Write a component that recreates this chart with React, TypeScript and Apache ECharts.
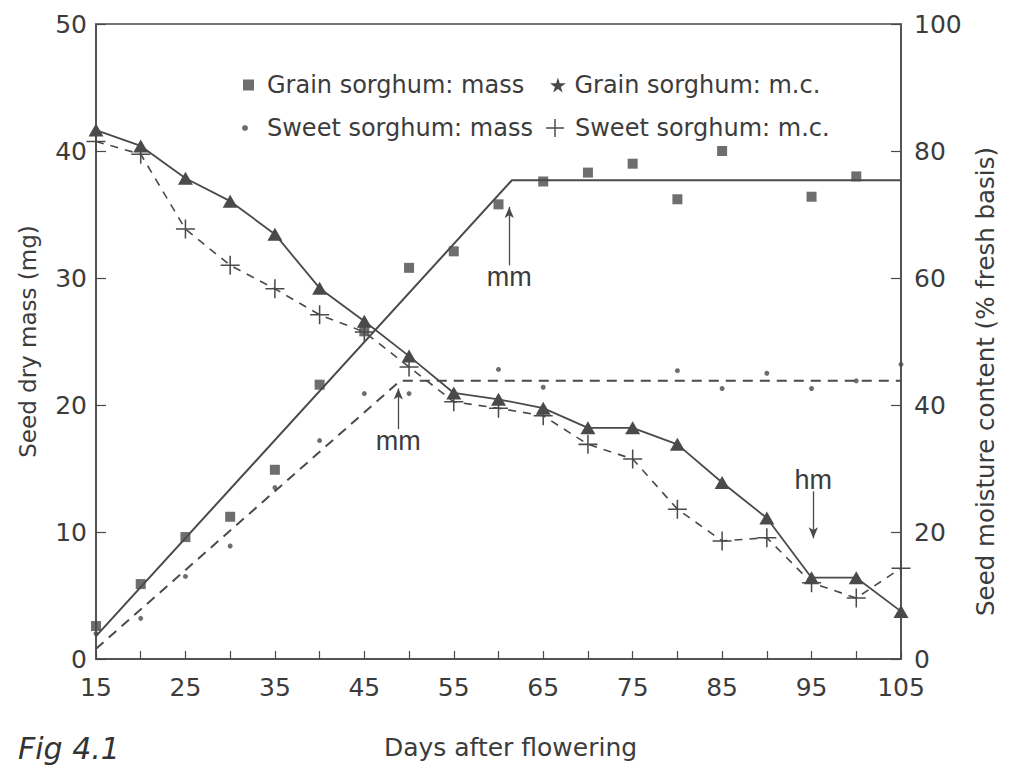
import React, { useEffect, useRef } from "react";
import * as echarts from "echarts";

// Days after flowering
const days = [15, 20, 25, 30, 35, 40, 45, 50, 55, 60, 65, 70, 75, 80, 85, 90, 95, 100, 105];
// Seed dry mass (mg)
const grainMass = [2.6, 5.9, 9.6, 11.2, 14.9, 21.6, 25.8, 30.8, 32.1, 35.8, 37.6, 38.3, 39.0, 36.2, 40.0, null, 36.4, 38.0, null];
const sweetMass = [2.0, 3.2, 6.5, 8.9, 13.5, 17.2, 20.9, 20.9, null, 22.8, 21.4, null, null, 22.7, 21.3, 22.5, 21.3, 21.9, 23.2];
// Seed moisture content (% fresh basis)
const grainMC = [83.3, 80.8, 75.7, 72.1, 66.9, 58.4, 53.2, 47.7, 41.9, 40.9, 39.5, 36.4, 36.4, 33.8, 27.8, 22.2, 12.8, 12.8, 7.5];
const sweetMC = [81.5, 79.5, 67.7, 62.0, 58.3, 54.2, 51.5, 46.0, 40.5, 39.5, 38.3, 33.8, 31.5, 23.6, 18.6, 19.1, 12.0, 9.6, 14.3];
// Fitted broken-line models of dry mass
const grainFitDays = [15, 61.5, 105];
const grainFitMass = [1.8, 37.7, 37.7];
const sweetFitDays = [15, 49, 105];
const sweetFitMass = [0.8, 21.9, 21.9];
// Annotations: [day, from, to]
const grainMM = [61.2, 31.0, 35.6];
const sweetMM = [48.8, 18.1, 21.3];
const harvestHM = [95.2, 26.4, 19.0];
// Axis ticks
const xLabelTicks = [15, 25, 35, 45, 55, 65, 75, 85, 95, 105];

const INK = "#4a4a4a";
const TEXT = "#3c3c3c";
const FONT = "DejaVu Sans";

const PLUS = "path://M9.2,0H10.8V9.2H20V10.8H10.8V20H9.2V10.8H0V9.2H9.2Z";
const STAR = "path://M50,0L61,35L98,35L68,57L79,91L50,70L21,91L32,57L2,35L39,35Z";

const pairs = (xs: number[], ys: (number | null)[]) =>
  xs.map((x, i) => [x, ys[i]]).filter((p) => p[1] !== null);

const arrow = (a: number[], text: string) => ({
  silent: true,
  symbol: ["none", "arrow"],
  symbolSize: [7, 11],
  lineStyle: { type: "solid", width: 1.3, color: INK },
  label: {
    show: true,
    position: "start",
    formatter: text,
    fontFamily: "Liberation Sans",
    fontSize: 27,
    color: TEXT,
    distance: -2,
  },
  emphasis: { disabled: true },
  data: [[{ coord: [a[0], a[1]] }, { coord: [a[0], a[2]] }]],
});

const legendItem = (name: string, icon: string, w: number, h: number, left: number, top: number, pad: number) => ({
  show: true,
  left,
  top,
  orient: "horizontal",
  padding: 0,
  itemWidth: w,
  itemHeight: h,
  selectedMode: false,
  data: [{ name, icon, itemStyle: { color: INK } }],
  textStyle: {
    fontFamily: FONT,
    fontSize: 24,
    color: TEXT,
    lineHeight: 26,
    padding: [0, 0, 0, pad],
  },
});

export default function App() {
  const ref = useRef<HTMLDivElement>(null);
  useEffect(() => {
    if (!ref.current) return;
    const chart = echarts.init(ref.current, null, { renderer: "svg" });
    const axisLine = { show: true, lineStyle: { color: INK, width: 1.5 } };
    chart.setOption({
      animation: false,
      backgroundColor: "#ffffff",
      grid: {
        left: 96,
        right: 109,
        top: 24,
        bottom: 110,
        containLabel: false,
        show: true,
        borderColor: INK,
        borderWidth: 1.5,
      },
      legend: [
        legendItem("Grain sorghum: mass", "rect", 11, 11, 243, 72, 8),
        legendItem("Sweet sorghum: mass", "circle", 6, 6, 242, 115, 14),
        legendItem("Grain sorghum: m.c.", STAR, 17, 15, 550, 72, 3),
        legendItem("Sweet sorghum: m.c.", PLUS, 18, 18, 546, 115, 6),
      ],
      xAxis: {
        type: "value",
        min: 15,
        max: 105,
        interval: 5,
        name: "Days after flowering",
        nameLocation: "middle",
        nameGap: 76,
        nameTextStyle: { fontFamily: FONT, fontSize: 25, color: TEXT, padding: [0, 0, 0, 24] },
        axisLine,
        axisTick: { show: true, inside: true, length: 8, lineStyle: { color: INK, width: 1.2 } },
        axisLabel: {
          fontFamily: FONT,
          fontSize: 25,
          color: TEXT,
          margin: 16,
          formatter: (v: number) => (xLabelTicks.includes(v) ? String(v) : ""),
        },
        splitLine: { show: false },
      },
      yAxis: [
        {
          type: "value",
          min: 0,
          max: 50,
          interval: 10,
          position: "left",
          name: "Seed dry mass (mg)",
          nameLocation: "middle",
          nameRotate: 90,
          nameGap: 57,
          nameTextStyle: { fontFamily: FONT, fontSize: 23, color: TEXT },
          axisLine,
          axisTick: { show: true, inside: true, length: 10, lineStyle: { color: INK, width: 1.2 } },
          axisLabel: { fontFamily: FONT, fontSize: 25, color: TEXT, margin: 9 },
          splitLine: { show: false },
        },
        {
          type: "value",
          min: 0,
          max: 100,
          interval: 20,
          position: "right",
          name: "Seed moisture content (% fresh basis)",
          nameLocation: "middle",
          nameRotate: 90,
          nameGap: 71,
          nameTextStyle: { fontFamily: FONT, fontSize: 24.5, color: TEXT, padding: [0, 80, 0, 0] },
          axisLine,
          axisTick: { show: true, inside: true, length: 10, lineStyle: { color: INK, width: 1.2 } },
          axisLabel: { fontFamily: FONT, fontSize: 25, color: TEXT, margin: 13 },
          splitLine: { show: false },
        },
      ],
      graphic: [
        {
          type: "text",
          left: 18,
          top: 733,
          style: {
            text: "Fig 4.1",
            fontFamily: FONT,
            fontStyle: "italic",
            fontSize: 30,
            fill: "#333",
          },
        },
      ],
      series: [
        {
          name: "Grain sorghum fit",
          type: "line",
          yAxisIndex: 0,
          data: pairs(grainFitDays, grainFitMass),
          showSymbol: false,
          symbol: "none",
          lineStyle: { color: INK, width: 2, type: "solid" },
          z: 2,
          markLine: arrow(grainMM, "mm"),
        },
        {
          name: "Sweet sorghum fit",
          type: "line",
          yAxisIndex: 0,
          data: pairs(sweetFitDays, sweetFitMass),
          showSymbol: false,
          symbol: "none",
          lineStyle: { color: INK, width: 2, type: [10, 7] },
          z: 2,
          markLine: arrow(sweetMM, "mm"),
        },
        {
          name: "Grain sorghum: m.c.",
          type: "line",
          yAxisIndex: 1,
          data: pairs(days, grainMC),
          symbol: "triangle",
          symbolSize: [15, 13],
          itemStyle: { color: INK },
          lineStyle: { color: INK, width: 1.8, type: "solid" },
          z: 3,
          markLine: arrow(harvestHM, "hm"),
        },
        {
          name: "Sweet sorghum: m.c.",
          type: "line",
          yAxisIndex: 1,
          data: pairs(days, sweetMC),
          symbol: PLUS,
          symbolSize: 19,
          itemStyle: { color: INK },
          lineStyle: { color: INK, width: 1.6, type: [8, 7] },
          z: 3,
        },
        {
          name: "Grain sorghum: mass",
          type: "scatter",
          yAxisIndex: 0,
          data: pairs(days, grainMass),
          symbol: "rect",
          symbolSize: 10,
          itemStyle: { color: INK },
          z: 4,
        },
        {
          name: "Sweet sorghum: mass",
          type: "scatter",
          yAxisIndex: 0,
          data: pairs(days, sweetMass),
          symbol: "circle",
          symbolSize: 5,
          itemStyle: { color: INK },
          z: 4,
        },
      ],
    });
    return () => chart.dispose();
  }, []);
  return (
    <div
      ref={ref}
      style={{ position: "fixed", left: 0, top: 0, width: 1010, height: 769, background: "#fff" }}
    />
  );
}
